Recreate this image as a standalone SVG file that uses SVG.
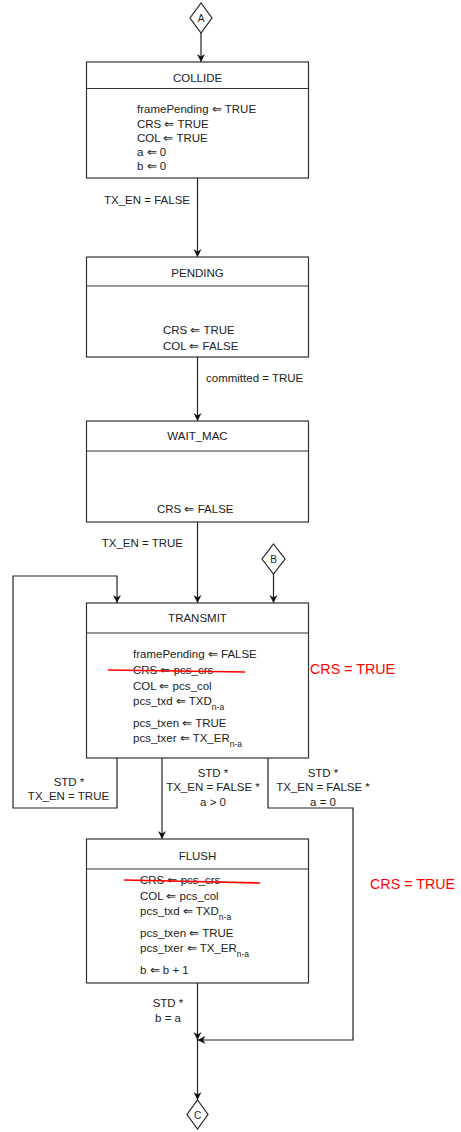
<svg xmlns="http://www.w3.org/2000/svg" width="461" height="1132" viewBox="0 0 461 1132">
<defs>
<marker id="arr" viewBox="0 0 10 10" refX="10" refY="5" markerWidth="8" markerHeight="9" markerUnits="userSpaceOnUse" orient="auto">
<path d="M0,0 L10,5 L0,10 L3,5 Z" fill="#111"/>
</marker>
<style>
.box{fill:#fff;stroke:#333;stroke-width:1.2}
.sep{stroke:#333;stroke-width:1.2}
.t{font-family:"Liberation Sans",Arial,sans-serif;font-size:11.5px;fill:#222}
.c{text-anchor:middle}
.sub{font-size:8.5px}
.con{fill:none;stroke:#222;stroke-width:1.2}
.red{font-family:"Liberation Sans",Arial,sans-serif;font-size:14.3px;fill:#f00}
.strike{stroke:#f00;stroke-width:1.6}
.dia{fill:#fff;stroke:#222;stroke-width:1.2}
</style>
</defs>
<rect width="461" height="1132" fill="#fff"/>

<g id="connectors">
<path class="con" d="M201,33 V62" marker-end="url(#arr)"/>
<path class="con" d="M197.5,178 V257" marker-end="url(#arr)"/>
<path class="con" d="M197.5,357 V421" marker-end="url(#arr)"/>
<path class="con" d="M197.5,522 V603" marker-end="url(#arr)"/>
<path class="con" d="M273.5,574 V603" marker-end="url(#arr)"/>
<path class="con" d="M117,758 V808 H13 V576 H117 V603" marker-end="url(#arr)"/>
<path class="con" d="M162,758 V839" marker-end="url(#arr)"/>
<path class="con" d="M268,758 V808 H353 V1040 H197.5" marker-end="url(#arr)"/>
<path class="con" d="M197.5,983 V1040" marker-end="url(#arr)"/>
<path class="con" d="M197.5,1040 V1100" marker-end="url(#arr)"/>
<text class="t" x="190" y="204" text-anchor="end">TX_EN = FALSE</text>
<text class="t" x="206" y="382">committed = TRUE</text>
<text class="t" x="183" y="547" text-anchor="end">TX_EN = TRUE</text>
<text class="t c" x="69" y="786">STD *</text>
<text class="t c" x="68.5" y="800">TX_EN = TRUE</text>
<text class="t c" x="213" y="777">STD *</text>
<text class="t c" x="213" y="791">TX_EN = FALSE *</text>
<text class="t c" x="213" y="806">a &gt; 0</text>
<text class="t c" x="323" y="777">STD *</text>
<text class="t c" x="323" y="791">TX_EN = FALSE *</text>
<text class="t c" x="323" y="806">a = 0</text>
<text class="t c" x="168" y="1007">STD *</text>
<text class="t c" x="168" y="1022">b = a</text>
</g>

<g id="conn-A">
<path class="dia" d="M201,3 L212,18 L201,33 L190,18 Z"/>
<text class="t c" x="201" y="22" style="font-size:10px">A</text>
</g>

<g id="conn-B">
<path class="dia" d="M273.5,544 L285,559 L273.5,574 L262,559 Z"/>
<text class="t c" x="273.5" y="563" style="font-size:10px">B</text>
</g>

<g id="conn-C">
<path class="dia" d="M197.5,1100 L208,1114.5 L197.5,1129 L187,1114.5 Z"/>
<text class="t c" x="197.5" y="1118.5" style="font-size:10px">C</text>
</g>

<g id="collide">
<rect class="box" x="86.5" y="62" width="222" height="116"/>
<line class="sep" x1="86.5" y1="88.5" x2="308.5" y2="88.5"/>
<text class="t c" x="197.5" y="82">COLLIDE</text>
<text class="t" x="137" y="113">framePending ⇐ TRUE</text>
<text class="t" x="137" y="127.5">CRS ⇐ TRUE</text>
<text class="t" x="137" y="141.5">COL ⇐ TRUE</text>
<text class="t" x="137" y="155.5">a ⇐ 0</text>
<text class="t" x="137" y="170">b ⇐ 0</text>
</g>

<g id="pending">
<rect class="box" x="86.5" y="257" width="222" height="100"/>
<line class="sep" x1="86.5" y1="286" x2="308.5" y2="286"/>
<text class="t c" x="197.5" y="277">PENDING</text>
<text class="t" x="163" y="334">CRS ⇐ TRUE</text>
<text class="t" x="163" y="350">COL ⇐ FALSE</text>
</g>

<g id="wait_mac">
<rect class="box" x="86.5" y="421" width="222" height="101"/>
<line class="sep" x1="86.5" y1="451" x2="308.5" y2="451"/>
<text class="t c" x="197.5" y="440">WAIT_MAC</text>
<text class="t" x="157" y="513">CRS ⇐ FALSE</text>
</g>

<g id="transmit">
<rect class="box" x="86.5" y="603" width="222" height="155"/>
<line class="sep" x1="86.5" y1="633" x2="308.5" y2="633"/>
<text class="t c" x="197.5" y="622">TRANSMIT</text>
<text class="t" x="133" y="658">framePending ⇐ FALSE</text>
<text class="t" x="133" y="674">CRS ⇐ pcs_crs</text>
<text class="t" x="133" y="690">COL ⇐ pcs_col</text>
<text class="t" x="133" y="705">pcs_txd ⇐ TXD<tspan class="sub" dy="5">n-a</tspan></text>
<text class="t" x="133" y="727">pcs_txen ⇐ TRUE</text>
<text class="t" x="133" y="742">pcs_txer ⇐ TX_ER<tspan class="sub" dy="5">n-a</tspan></text>
<line class="strike" x1="108" y1="670" x2="245" y2="672"/>
<text class="red" x="310" y="674">CRS = TRUE</text>
</g>

<g id="flush">
<rect class="box" x="86.5" y="839" width="222" height="144"/>
<line class="sep" x1="86.5" y1="869" x2="308.5" y2="869"/>
<text class="t c" x="197.5" y="860">FLUSH</text>
<text class="t" x="140" y="884">CRS ⇐ pcs_crs</text>
<text class="t" x="140" y="900">COL ⇐ pcs_col</text>
<text class="t" x="140" y="915">pcs_txd ⇐ TXD<tspan class="sub" dy="5">n-a</tspan></text>
<text class="t" x="140" y="937">pcs_txen ⇐ TRUE</text>
<text class="t" x="140" y="952">pcs_txer ⇐ TX_ER<tspan class="sub" dy="5">n-a</tspan></text>
<text class="t" x="140" y="974">b ⇐ b + 1</text>
<line class="strike" x1="124" y1="880" x2="260" y2="883"/>
<text class="red" x="370" y="889">CRS = TRUE</text>
</g>
</svg>
